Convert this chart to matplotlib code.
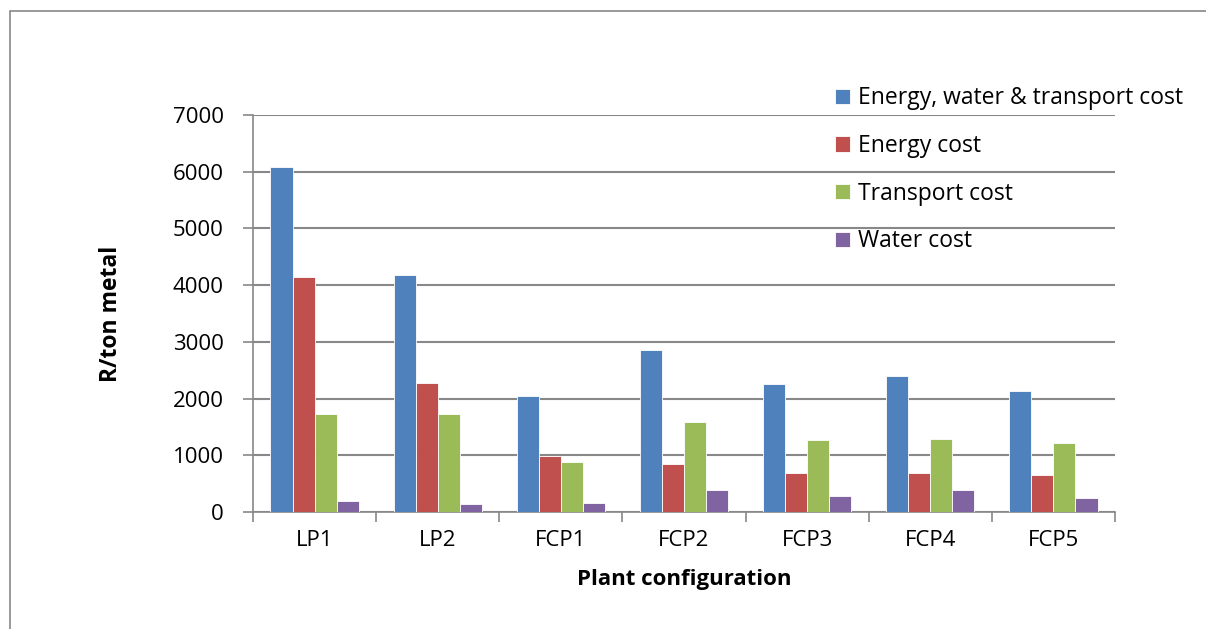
import numpy as np
import matplotlib.pyplot as plt
from matplotlib.patches import Rectangle

plt.rcParams['font.family'] = ['Open Sans', 'DejaVu Sans']

configs = ["LP1", "LP2", "FCP1", "FCP2", "FCP3", "FCP4", "FCP5"]
total_cost = [6090, 4180, 2050, 2850, 2250, 2400, 2130]
energy_cost = [4140, 2280, 990, 850, 680, 690, 650]
transport_cost = [1735, 1735, 885, 1580, 1275, 1290, 1210]
water_cost = [195, 145, 165, 390, 280, 385, 250]

series = [
    ("Energy, water & transport cost", total_cost, "#4f81bd"),
    ("Energy cost", energy_cost, "#c0504d"),
    ("Transport cost", transport_cost, "#9bbb59"),
    ("Water cost", water_cost, "#8064a2"),
]

fig = plt.figure(figsize=(12.06, 6.29), dpi=100)
ax = fig.add_axes([253 / 1206, 1 - 512 / 629, (1115 - 253) / 1206, (512 - 115) / 629])

# outer chart border
fig.patches.append(Rectangle((10 / 1206, -0.1), 1.2, 1 - 11 / 629 + 0.1,
                             transform=fig.transFigure, fill=False,
                             edgecolor="#888888", linewidth=1.2))

x = np.arange(len(configs))
w = 0.179
for i, (name, vals, col) in enumerate(series):
    ax.bar(x + (i - 1.5) * w, vals, w, color=col, edgecolor="white",
           linewidth=0.6, label=name, zorder=3)

ax.set_xlim(-0.5, len(configs) - 0.5)
ax.set_ylim(0, 7000)
ax.set_yticks(range(0, 7001, 1000))
ax.set_xticks(x)
ax.set_xticklabels(configs)
ax.set_xticks(np.arange(-0.5, len(configs)), minor=True)
ax.tick_params(axis="x", which="major", length=0, pad=13, labelsize=16)
ax.tick_params(axis="x", which="minor", length=7, width=1.2, color="#888888")
ax.tick_params(axis="y", length=7, width=1.2, color="#888888", labelsize=16, pad=14)

ax.grid(axis="y", color="#888888", linewidth=1.5, zorder=0)
for s in ["top", "right"]:
    ax.spines[s].set_visible(False)
for s in ["left", "bottom"]:
    ax.spines[s].set_color("#888888")
    ax.spines[s].set_linewidth(1.2)

ax.set_ylabel("R/ton metal", fontsize=16.5, fontweight="bold", va="center")
ax.yaxis.set_label_coords(-0.165, 0.5)
ax.set_xlabel("Plant configuration", fontsize=16, fontweight="bold", va="center")
ax.xaxis.set_label_coords(0.5, -0.171)

ax.legend(loc="upper left", bbox_to_anchor=(0.665, 1.095), frameon=False,
          fontsize=16.5, handlelength=0.65, handleheight=0.65, handletextpad=0.35,
          labelspacing=1.03, borderaxespad=0)

fig.savefig("out.png", dpi=100)
